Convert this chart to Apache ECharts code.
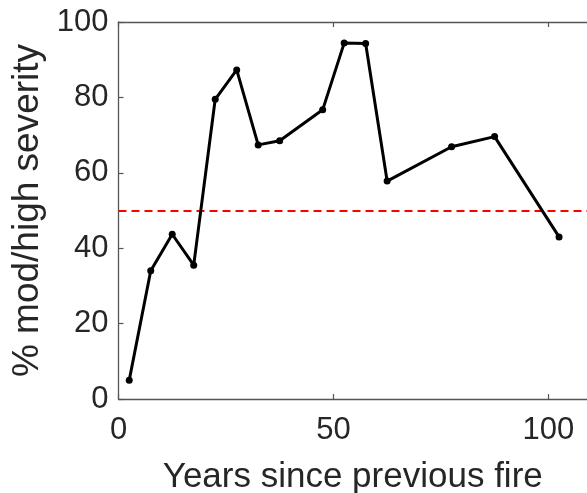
<!DOCTYPE html>
<html>
<head>
<meta charset="utf-8">
<script src="https://cdn.jsdelivr.net/npm/echarts@6/dist/echarts.min.js"></script>
<style>
html,body{margin:0;padding:0;background:#fff;}
#c{width:587px;height:493px;}
</style>
</head>
<body>
<div id="c"></div>
<script>
const years = [2.5, 7.5, 12.5, 17.5, 22.5, 27.5, 32.5, 37.5, 47.5, 52.5, 57.5, 62.5, 77.5, 87.5, 102.5];
const severity = [5, 34, 43.7, 35.5, 79.5, 87.3, 67.4, 68.5, 76.7, 94.4, 94.3, 57.8, 66.9, 69.6, 43];
const threshold = 50;
const xTicks = [0, 50, 100];
const yTicks = [0, 20, 40, 60, 80, 100];

const FONT = '"Liberation Sans", Arial, sans-serif';
const axisCol = '#555555';
const textCol = '#262626';

const chart = echarts.init(document.getElementById('c'), null, {renderer: 'canvas'});
const baseAxisLine = {show: true, lineStyle: {color: axisCol, width: 1.3}};
const xTick = {show: true, inside: true, length: 5, customValues: xTicks, lineStyle: {color: axisCol, width: 1.2}};
const yTick = {show: true, inside: true, length: 5, lineStyle: {color: axisCol, width: 1.2}};
chart.setOption({
  animation: false,
  grid: {left: 118.5, top: 22, width: 468.5, height: 377, containLabel: false, outerBoundsMode: 'none'},
  xAxis: [{
    type: 'value', min: 0, max: 109, interval: 50, position: 'bottom',
    axisLine: baseAxisLine,
    axisTick: xTick,
    splitLine: {show: false},
    axisLabel: {color: textCol, fontFamily: FONT, fontSize: 31, margin: 16, customValues: xTicks},
    name: 'Years since previous fire', nameLocation: 'middle', nameGap: 61,
    nameTextStyle: {color: textCol, fontFamily: FONT, fontSize: 35}
  }, {
    type: 'value', min: 0, max: 109, interval: 50, position: 'top',
    axisLine: baseAxisLine,
    axisTick: xTick,
    axisLabel: {show: false}, splitLine: {show: false}
  }],
  yAxis: [{
    type: 'value', min: 0, max: 100, interval: 20, position: 'left',
    axisLine: baseAxisLine,
    axisTick: yTick,
    splitLine: {show: false},
    axisLabel: {color: textCol, fontFamily: FONT, fontSize: 31, margin: 10,
      formatter: v => yTicks.includes(v) ? String(v) : ''},
    name: '% mod/high severity', nameLocation: 'middle', nameGap: 66,
    nameTextStyle: {color: textCol, fontFamily: FONT, fontSize: 37}
  }],
  series: [{
    type: 'line',
    data: years.map((x, i) => [x, severity[i]]),
    symbol: 'circle', symbolSize: 7,
    itemStyle: {color: '#000'},
    lineStyle: {color: '#000', width: 3},
    z: 3,
    markLine: {
      silent: true, symbol: 'none', label: {show: false},
      lineStyle: {color: '#ff0000', width: 2.2, type: [8, 5]},
      data: [{yAxis: threshold}],
      z: 2
    }
  }]
});
</script>
</body>
</html>
